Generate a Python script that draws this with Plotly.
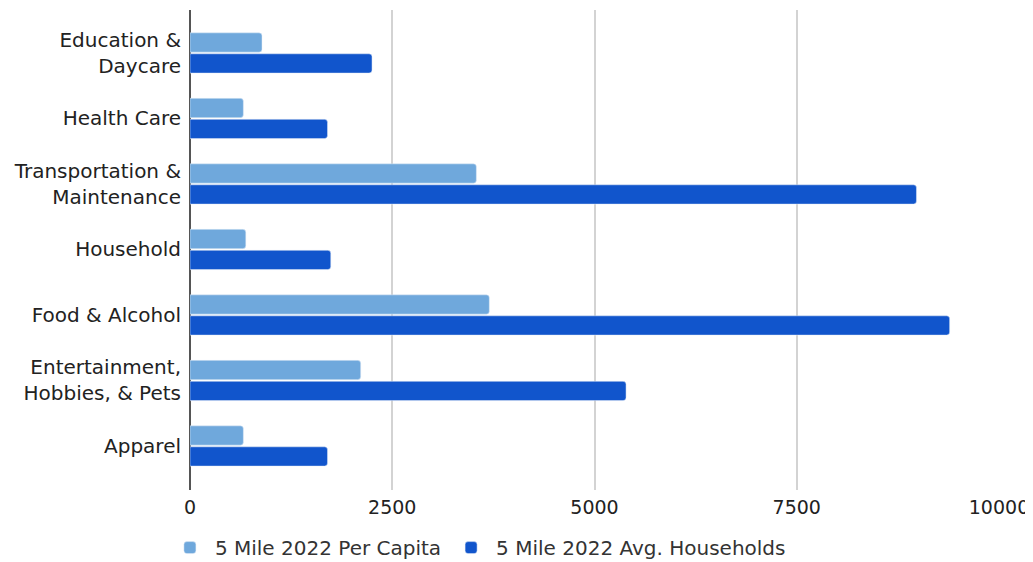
import plotly.graph_objects as go

categories = ["Education &<br>Daycare", "Health Care", "Transportation &<br>Maintenance",
              "Household", "Food & Alcohol", "Entertainment,<br>Hobbies, & Pets", "Apparel"]
per_capita = [890, 660, 3540, 690, 3700, 2110, 660]
avg_households = [2250, 1700, 8980, 1740, 9390, 5390, 1700]
x_ticks = [0, 2500, 5000, 7500, 10000]

fig = go.Figure()
fig.add_trace(go.Bar(y=categories, x=per_capita, orientation="h",
                     name="5 Mile 2022 Per Capita", marker_color="#6fa8dc"))
fig.add_trace(go.Bar(y=categories, x=avg_households, orientation="h",
                     name="5 Mile 2022 Avg. Households", marker_color="#1155cc"))

# page body has an 8px margin, so the figure is sized/offset accordingly
fig.update_layout(
    width=1025, height=554,
    margin=dict(l=182, r=34, t=2, b=72, autoexpand=False),
    plot_bgcolor="white", paper_bgcolor="white",
    barmode="group", bargap=0.36, bargroupgap=0.08, barcornerradius=3,
    font=dict(family="DejaVu Sans", size=19, color="#222"),
    legend=dict(orientation="h", x=-0.031, xanchor="left", y=-0.12, yanchor="middle",
                font=dict(family="DejaVu Sans", size=20, color="#333"),
                itemwidth=40, traceorder="normal"),
    showlegend=True,
)
fig.update_yaxes(range=[6.672, -0.656], categoryorder="array", categoryarray=categories,
                 showgrid=False, ticks="", ticklabelstandoff=8,
                 tickfont=dict(family="DejaVu Sans", size=20, color="#222"))
fig.update_xaxes(range=[0, 10000], tickvals=x_ticks, ticktext=[str(v) for v in x_ticks],
                 showgrid=True, gridcolor="#d3d3d3", gridwidth=1.8,
                 zeroline=True, zerolinecolor="#555", zerolinewidth=1.8,
                 ticks="", ticklabelstandoff=4,
                 tickfont=dict(family="DejaVu Sans", size=19, color="#222"))

fig.write_html("out.html")
